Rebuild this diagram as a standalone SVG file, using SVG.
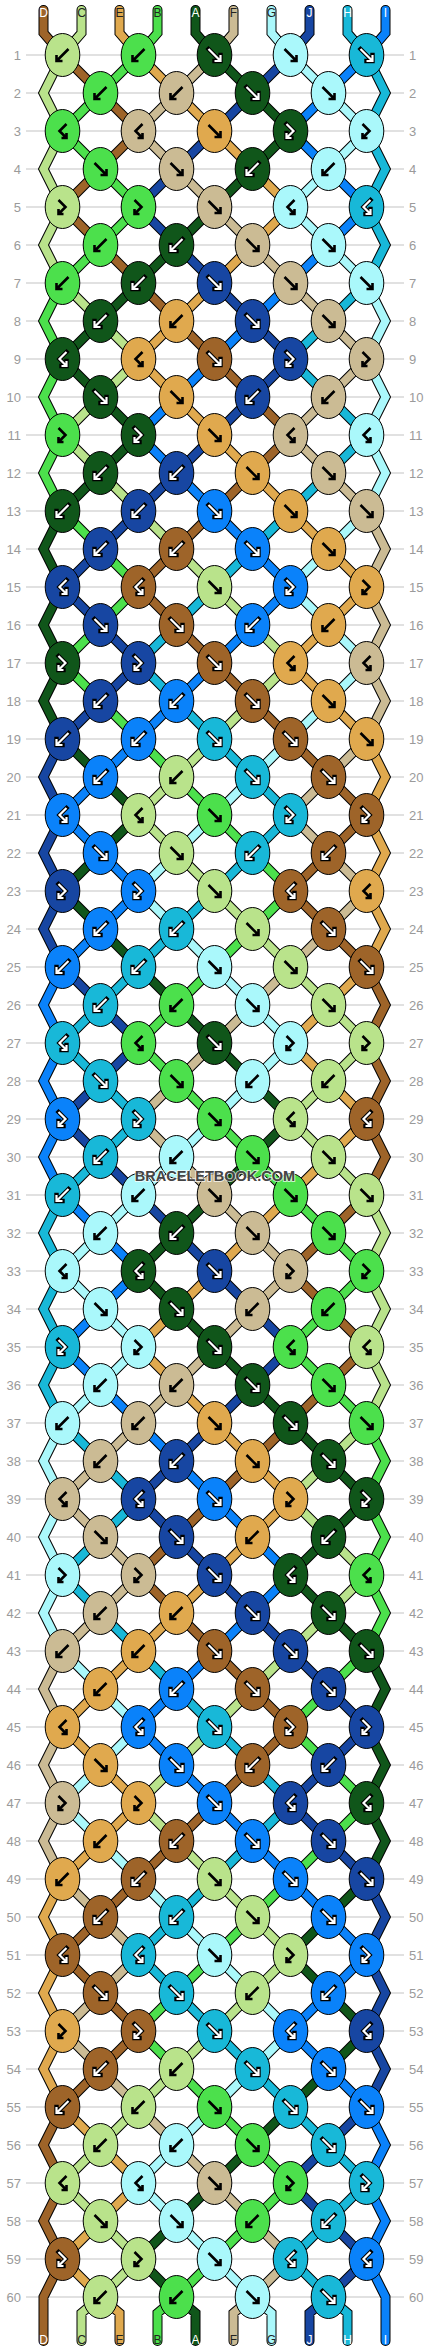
<svg xmlns="http://www.w3.org/2000/svg" width="430" height="2352" viewBox="0 0 430 2352">
<style>
.D{fill:#9e6429}.C{fill:#b9e38b}.E{fill:#e0a94e}.B{fill:#4ce04c}.A{fill:#10561a}.F{fill:#cbbb94}.G{fill:#aaf8fb}.J{fill:#1746a2}.H{fill:#18b8d8}.I{fill:#0a82fa}
.so{fill:none;stroke:#000;stroke-width:10;stroke-linecap:round;stroke-linejoin:miter}
.s{fill:none;stroke-width:8;stroke-linecap:round;stroke-linejoin:miter}
.rn{font-family:"Liberation Sans",Arial,sans-serif;font-size:13px;fill:#9a9a9a}
.lb{font-family:"Liberation Sans",Arial,sans-serif;font-size:12px;text-anchor:middle}
</style>
<defs>
<g id="fl"><ellipse rx="17.3" ry="21.5" stroke="#000"/><path d="M-6-6L5 5M0 6H6V0" fill="none" stroke="#000" stroke-width="2.6"/></g>
<g id="fd"><ellipse rx="17.3" ry="21.5" stroke="#000"/><path d="M-6-6L5 5M0 6H6V0" fill="none" stroke="#000" stroke-width="4.4" stroke-linecap="square"/><path d="M-6-6L5 5M0 6H6V0" fill="none" stroke="#fff" stroke-width="2.2"/></g>
<g id="bl"><ellipse rx="17.3" ry="21.5" stroke="#000"/><path d="M6-6L-5 5M0 6H-6V0" fill="none" stroke="#000" stroke-width="2.6"/></g>
<g id="bd"><ellipse rx="17.3" ry="21.5" stroke="#000"/><path d="M6-6L-5 5M0 6H-6V0" fill="none" stroke="#000" stroke-width="4.4" stroke-linecap="square"/><path d="M6-6L-5 5M0 6H-6V0" fill="none" stroke="#fff" stroke-width="2.2"/></g>
<g id="pl"><ellipse rx="17.3" ry="21.5" stroke="#000"/><path d="M-4-7L3 0L-3 6M1 7H-4V2" fill="none" stroke="#000" stroke-width="2.6"/></g>
<g id="pd"><ellipse rx="17.3" ry="21.5" stroke="#000"/><path d="M-4-7L3 0L-3 6M1 7H-4V2" fill="none" stroke="#000" stroke-width="4.4" stroke-linecap="square"/><path d="M-4-7L3 0L-3 6M1 7H-4V2" fill="none" stroke="#fff" stroke-width="2.2"/></g>
<g id="ql"><ellipse rx="17.3" ry="21.5" stroke="#000"/><path d="M4-7L-3 0L3 6M-1 7H4V2" fill="none" stroke="#000" stroke-width="2.6"/></g>
<g id="qd"><ellipse rx="17.3" ry="21.5" stroke="#000"/><path d="M4-7L-3 0L3 6M-1 7H4V2" fill="none" stroke="#000" stroke-width="4.4" stroke-linecap="square"/><path d="M4-7L-3 0L3 6M-1 7H4V2" fill="none" stroke="#fff" stroke-width="2.2"/></g>
<path id="pD" d="M0 10V33L19 55 57 93 95 131 57 169 19 207 57 245 95 283 133 321 171 359 209 397 247 435 209 473 171 511 133 549 95 587 133 625 171 663 209 701 247 739 285 777 323 815 285 853 247 891 285 929 323 967 342 1005 323 1043 342 1081 323 1119 342 1157 323 1195 285 1233 247 1271 285 1309 323 1347 285 1385 247 1423 209 1461 171 1499 133 1537 95 1575 133 1613 171 1651 209 1689 247 1727 209 1765 171 1803 133 1841 95 1879 57 1917 19 1955 57 1993 95 2031 57 2069 19 2107 0 2145 19 2183 0 2221 19 2259 0 2297V2341"/>
<path id="pC" d="M38 10V33L19 55 0 93 19 131 0 169 19 207 0 245 19 283 57 321 95 359 57 397 19 435 57 473 95 511 133 549 171 587 209 625 247 663 209 701 171 739 133 777 95 815 133 853 171 891 209 929 247 967 285 1005 323 1043 285 1081 247 1119 285 1157 323 1195 342 1233 323 1271 342 1309 323 1347 342 1385 323 1423 285 1461 247 1499 285 1537 323 1575 285 1613 247 1651 209 1689 171 1727 133 1765 95 1803 133 1841 171 1879 209 1917 247 1955 209 1993 171 2031 133 2069 95 2107 57 2145 19 2183 57 2221 95 2259 57 2297L38 2313V2341"/>
<path id="pE" d="M76 10V33L95 55 133 93 171 131 209 169 247 207 209 245 171 283 133 321 95 359 133 397 171 435 209 473 247 511 285 549 323 587 285 625 247 663 285 701 323 739 342 777 323 815 342 853 323 891 342 929 323 967 285 1005 247 1043 285 1081 323 1119 285 1157 247 1195 209 1233 171 1271 133 1309 95 1347 133 1385 171 1423 209 1461 247 1499 209 1537 171 1575 133 1613 95 1651 57 1689 19 1727 57 1765 95 1803 57 1841 19 1879 0 1917 19 1955 0 1993 19 2031 0 2069 19 2107 57 2145 95 2183 57 2221 19 2259 57 2297L76 2313V2341"/>
<path id="pB" d="M114 10V33L95 55 57 93 19 131 57 169 95 207 57 245 19 283 0 321 19 359 0 397 19 435 0 473 19 511 57 549 95 587 57 625 19 663 57 701 95 739 133 777 171 815 209 853 247 891 209 929 171 967 133 1005 95 1043 133 1081 171 1119 209 1157 247 1195 285 1233 323 1271 285 1309 247 1347 285 1385 323 1423 342 1461 323 1499 342 1537 323 1575 342 1613 323 1651 285 1689 247 1727 285 1765 323 1803 285 1841 247 1879 209 1917 171 1955 133 1993 95 2031 133 2069 171 2107 209 2145 247 2183 209 2221 171 2259 133 2297L114 2313V2341"/>
<path id="pA" d="M152 10V33L171 55 209 93 247 131 209 169 171 207 133 245 95 283 57 321 19 359 57 397 95 435 57 473 19 511 0 549 19 587 0 625 19 663 0 701 19 739 57 777 95 815 57 853 19 891 57 929 95 967 133 1005 171 1043 209 1081 247 1119 209 1157 171 1195 133 1233 95 1271 133 1309 171 1347 209 1385 247 1423 285 1461 323 1499 285 1537 247 1575 285 1613 323 1651 342 1689 323 1727 342 1765 323 1803 342 1841 323 1879 285 1917 247 1955 285 1993 323 2031 285 2069 247 2107 209 2145 171 2183 133 2221 95 2259 133 2297L152 2313V2341"/>
<path id="pF" d="M190 10V33L171 55 133 93 95 131 133 169 171 207 209 245 247 283 285 321 323 359 285 397 247 435 285 473 323 511 342 549 323 587 342 625 323 663 342 701 323 739 285 777 247 815 285 853 323 891 285 929 247 967 209 1005 171 1043 133 1081 95 1119 133 1157 171 1195 209 1233 247 1271 209 1309 171 1347 133 1385 95 1423 57 1461 19 1499 57 1537 95 1575 57 1613 19 1651 0 1689 19 1727 0 1765 19 1803 0 1841 19 1879 57 1917 95 1955 57 1993 19 2031 57 2069 95 2107 133 2145 171 2183 209 2221 247 2259 209 2297L190 2313V2341"/>
<path id="pG" d="M228 10V33L247 55 285 93 323 131 285 169 247 207 285 245 323 283 342 321 323 359 342 397 323 435 342 473 323 511 285 549 247 587 285 625 323 663 285 701 247 739 209 777 171 815 133 853 95 891 133 929 171 967 209 1005 247 1043 209 1081 171 1119 133 1157 95 1195 57 1233 19 1271 57 1309 95 1347 57 1385 19 1423 0 1461 19 1499 0 1537 19 1575 0 1613 19 1651 57 1689 95 1727 57 1765 19 1803 57 1841 95 1879 133 1917 171 1955 209 1993 247 2031 209 2069 171 2107 133 2145 95 2183 133 2221 171 2259 209 2297L228 2313V2341"/>
<path id="pJ" d="M266 10V33L247 55 209 93 171 131 133 169 95 207 133 245 171 283 209 321 247 359 209 397 171 435 133 473 95 511 57 549 19 587 57 625 95 663 57 701 19 739 0 777 19 815 0 853 19 891 0 929 19 967 57 1005 95 1043 57 1081 19 1119 57 1157 95 1195 133 1233 171 1271 209 1309 247 1347 209 1385 171 1423 133 1461 95 1499 133 1537 171 1575 209 1613 247 1651 285 1689 323 1727 285 1765 247 1803 285 1841 323 1879 342 1917 323 1955 342 1993 323 2031 342 2069 323 2107 285 2145 247 2183 285 2221 323 2259 285 2297L266 2313V2341"/>
<path id="pH" d="M304 10V33L323 55 342 93 323 131 342 169 323 207 342 245 323 283 285 321 247 359 285 397 323 435 285 473 247 511 209 549 171 587 133 625 95 663 133 701 171 739 209 777 247 815 209 853 171 891 133 929 95 967 57 1005 19 1043 57 1081 95 1119 57 1157 19 1195 0 1233 19 1271 0 1309 19 1347 0 1385 19 1423 57 1461 95 1499 57 1537 19 1575 57 1613 95 1651 133 1689 171 1727 209 1765 247 1803 209 1841 171 1879 133 1917 95 1955 133 1993 171 2031 209 2069 247 2107 285 2145 323 2183 285 2221 247 2259 285 2297L304 2313V2341"/>
<path id="pI" d="M342 10V33L323 55 285 93 247 131 285 169 323 207 285 245 247 283 209 321 171 359 133 397 95 435 133 473 171 511 209 549 247 587 209 625 171 663 133 701 95 739 57 777 19 815 57 853 95 891 57 929 19 967 0 1005 19 1043 0 1081 19 1119 0 1157 19 1195 57 1233 95 1271 57 1309 19 1347 57 1385 95 1423 133 1461 171 1499 209 1537 247 1575 209 1613 171 1651 133 1689 95 1727 133 1765 171 1803 209 1841 247 1879 285 1917 323 1955 285 1993 247 2031 285 2069 323 2107 342 2145 323 2183 342 2221 323 2259 342 2297V2341"/>
</defs>
<rect width="430" height="2352" fill="#fff"/>
<path id="rowlines" fill="none" stroke="#c4c4c4" stroke-width="1.2" d="M26 55h378m-378 38h378m-378 38h378m-378 38h378m-378 38h378m-378 38h378m-378 38h378m-378 38h378m-378 38h378m-378 38h378m-378 38h378m-378 38h378m-378 38h378m-378 38h378m-378 38h378m-378 38h378m-378 38h378m-378 38h378m-378 38h378m-378 38h378m-378 38h378m-378 38h378m-378 38h378m-378 38h378m-378 38h378m-378 38h378m-378 38h378m-378 38h378m-378 38h378m-378 38h378m-378 38h378m-378 38h378m-378 38h378m-378 38h378m-378 38h378m-378 38h378m-378 38h378m-378 38h378m-378 38h378m-378 38h378m-378 38h378m-378 38h378m-378 38h378m-378 38h378m-378 38h378m-378 38h378m-378 38h378m-378 38h378m-378 38h378m-378 38h378m-378 38h378m-378 38h378m-378 38h378m-378 38h378m-378 38h378m-378 38h378m-378 38h378m-378 38h378m-378 38h378m-378 38h378"/>
<g id="rownumbers">
<text class="rn" text-anchor="end"><tspan x="21" y="60">1</tspan><tspan x="21" y="98">2</tspan><tspan x="21" y="136">3</tspan><tspan x="21" y="174">4</tspan><tspan x="21" y="212">5</tspan><tspan x="21" y="250">6</tspan><tspan x="21" y="288">7</tspan><tspan x="21" y="326">8</tspan><tspan x="21" y="364">9</tspan><tspan x="21" y="402">10</tspan><tspan x="21" y="440">11</tspan><tspan x="21" y="478">12</tspan><tspan x="21" y="516">13</tspan><tspan x="21" y="554">14</tspan><tspan x="21" y="592">15</tspan><tspan x="21" y="630">16</tspan><tspan x="21" y="668">17</tspan><tspan x="21" y="706">18</tspan><tspan x="21" y="744">19</tspan><tspan x="21" y="782">20</tspan><tspan x="21" y="820">21</tspan><tspan x="21" y="858">22</tspan><tspan x="21" y="896">23</tspan><tspan x="21" y="934">24</tspan><tspan x="21" y="972">25</tspan><tspan x="21" y="1010">26</tspan><tspan x="21" y="1048">27</tspan><tspan x="21" y="1086">28</tspan><tspan x="21" y="1124">29</tspan><tspan x="21" y="1162">30</tspan><tspan x="21" y="1200">31</tspan><tspan x="21" y="1238">32</tspan><tspan x="21" y="1276">33</tspan><tspan x="21" y="1314">34</tspan><tspan x="21" y="1352">35</tspan><tspan x="21" y="1390">36</tspan><tspan x="21" y="1428">37</tspan><tspan x="21" y="1466">38</tspan><tspan x="21" y="1504">39</tspan><tspan x="21" y="1542">40</tspan><tspan x="21" y="1580">41</tspan><tspan x="21" y="1618">42</tspan><tspan x="21" y="1656">43</tspan><tspan x="21" y="1694">44</tspan><tspan x="21" y="1732">45</tspan><tspan x="21" y="1770">46</tspan><tspan x="21" y="1808">47</tspan><tspan x="21" y="1846">48</tspan><tspan x="21" y="1884">49</tspan><tspan x="21" y="1922">50</tspan><tspan x="21" y="1960">51</tspan><tspan x="21" y="1998">52</tspan><tspan x="21" y="2036">53</tspan><tspan x="21" y="2074">54</tspan><tspan x="21" y="2112">55</tspan><tspan x="21" y="2150">56</tspan><tspan x="21" y="2188">57</tspan><tspan x="21" y="2226">58</tspan><tspan x="21" y="2264">59</tspan><tspan x="21" y="2302">60</tspan></text>
<text class="rn"><tspan x="409" y="60">1</tspan><tspan x="409" y="98">2</tspan><tspan x="409" y="136">3</tspan><tspan x="409" y="174">4</tspan><tspan x="409" y="212">5</tspan><tspan x="409" y="250">6</tspan><tspan x="409" y="288">7</tspan><tspan x="409" y="326">8</tspan><tspan x="409" y="364">9</tspan><tspan x="409" y="402">10</tspan><tspan x="409" y="440">11</tspan><tspan x="409" y="478">12</tspan><tspan x="409" y="516">13</tspan><tspan x="409" y="554">14</tspan><tspan x="409" y="592">15</tspan><tspan x="409" y="630">16</tspan><tspan x="409" y="668">17</tspan><tspan x="409" y="706">18</tspan><tspan x="409" y="744">19</tspan><tspan x="409" y="782">20</tspan><tspan x="409" y="820">21</tspan><tspan x="409" y="858">22</tspan><tspan x="409" y="896">23</tspan><tspan x="409" y="934">24</tspan><tspan x="409" y="972">25</tspan><tspan x="409" y="1010">26</tspan><tspan x="409" y="1048">27</tspan><tspan x="409" y="1086">28</tspan><tspan x="409" y="1124">29</tspan><tspan x="409" y="1162">30</tspan><tspan x="409" y="1200">31</tspan><tspan x="409" y="1238">32</tspan><tspan x="409" y="1276">33</tspan><tspan x="409" y="1314">34</tspan><tspan x="409" y="1352">35</tspan><tspan x="409" y="1390">36</tspan><tspan x="409" y="1428">37</tspan><tspan x="409" y="1466">38</tspan><tspan x="409" y="1504">39</tspan><tspan x="409" y="1542">40</tspan><tspan x="409" y="1580">41</tspan><tspan x="409" y="1618">42</tspan><tspan x="409" y="1656">43</tspan><tspan x="409" y="1694">44</tspan><tspan x="409" y="1732">45</tspan><tspan x="409" y="1770">46</tspan><tspan x="409" y="1808">47</tspan><tspan x="409" y="1846">48</tspan><tspan x="409" y="1884">49</tspan><tspan x="409" y="1922">50</tspan><tspan x="409" y="1960">51</tspan><tspan x="409" y="1998">52</tspan><tspan x="409" y="2036">53</tspan><tspan x="409" y="2074">54</tspan><tspan x="409" y="2112">55</tspan><tspan x="409" y="2150">56</tspan><tspan x="409" y="2188">57</tspan><tspan x="409" y="2226">58</tspan><tspan x="409" y="2264">59</tspan><tspan x="409" y="2302">60</tspan></text>
</g>
<g transform="translate(43.5 0)">
<g id="connectors">
<use href="#pD" class="so"/><use href="#pD" class="s" stroke="#9e6429"/>
<use href="#pC" class="so"/><use href="#pC" class="s" stroke="#b9e38b"/>
<use href="#pE" class="so"/><use href="#pE" class="s" stroke="#e0a94e"/>
<use href="#pB" class="so"/><use href="#pB" class="s" stroke="#4ce04c"/>
<use href="#pA" class="so"/><use href="#pA" class="s" stroke="#10561a"/>
<use href="#pF" class="so"/><use href="#pF" class="s" stroke="#cbbb94"/>
<use href="#pG" class="so"/><use href="#pG" class="s" stroke="#aaf8fb"/>
<use href="#pJ" class="so"/><use href="#pJ" class="s" stroke="#1746a2"/>
<use href="#pH" class="so"/><use href="#pH" class="s" stroke="#18b8d8"/>
<use href="#pI" class="so"/><use href="#pI" class="s" stroke="#0a82fa"/>
</g>
<g id="string-labels">
<text class="lb" x="0" y="17" fill="#fff">D</text><text class="lb" x="38" y="17" fill="#222">C</text><text class="lb" x="76" y="17" fill="#222">E</text><text class="lb" x="114" y="17" fill="#222">B</text><text class="lb" x="152" y="17" fill="#fff">A</text><text class="lb" x="190" y="17" fill="#222">F</text><text class="lb" x="228" y="17" fill="#222">G</text><text class="lb" x="266" y="17" fill="#fff">J</text><text class="lb" x="304" y="17" fill="#fff">H</text><text class="lb" x="342" y="17" fill="#fff">I</text>
<text class="lb" x="0" y="2344" fill="#fff">D</text><text class="lb" x="38" y="2344" fill="#222">C</text><text class="lb" x="76" y="2344" fill="#222">E</text><text class="lb" x="114" y="2344" fill="#222">B</text><text class="lb" x="152" y="2344" fill="#fff">A</text><text class="lb" x="190" y="2344" fill="#222">F</text><text class="lb" x="228" y="2344" fill="#222">G</text><text class="lb" x="266" y="2344" fill="#fff">J</text><text class="lb" x="304" y="2344" fill="#fff">H</text><text class="lb" x="342" y="2344" fill="#fff">I</text>
</g>
<g id="knots">
<g id="k1-1" class="C"><use href="#bl" x="19" y="55"/></g><g id="k1-2" class="B"><use href="#bl" x="95" y="55"/></g><g id="k1-3" class="A"><use href="#fd" x="171" y="55"/></g><g id="k1-4" class="G"><use href="#fl" x="247" y="55"/></g><g id="k1-5" class="H"><use href="#fd" x="323" y="55"/></g>
<g id="k2-1" class="B"><use href="#bl" x="57" y="93"/></g><g id="k2-2" class="F"><use href="#bl" x="133" y="93"/></g><g id="k2-3" class="A"><use href="#fd" x="209" y="93"/></g><g id="k2-4" class="G"><use href="#fl" x="285" y="93"/></g>
<g id="k3-1" class="B"><use href="#ql" x="19" y="131"/></g><g id="k3-2" class="F"><use href="#ql" x="95" y="131"/></g><g id="k3-3" class="E"><use href="#fl" x="171" y="131"/></g><g id="k3-4" class="A"><use href="#pd" x="247" y="131"/></g><g id="k3-5" class="G"><use href="#pl" x="323" y="131"/></g>
<g id="k4-1" class="B"><use href="#fl" x="57" y="169"/></g><g id="k4-2" class="F"><use href="#fl" x="133" y="169"/></g><g id="k4-3" class="A"><use href="#bd" x="209" y="169"/></g><g id="k4-4" class="G"><use href="#bl" x="285" y="169"/></g>
<g id="k5-1" class="C"><use href="#pl" x="19" y="207"/></g><g id="k5-2" class="B"><use href="#pl" x="95" y="207"/></g><g id="k5-3" class="F"><use href="#fl" x="171" y="207"/></g><g id="k5-4" class="G"><use href="#ql" x="247" y="207"/></g><g id="k5-5" class="H"><use href="#qd" x="323" y="207"/></g>
<g id="k6-1" class="B"><use href="#bl" x="57" y="245"/></g><g id="k6-2" class="A"><use href="#bd" x="133" y="245"/></g><g id="k6-3" class="F"><use href="#fl" x="209" y="245"/></g><g id="k6-4" class="G"><use href="#fl" x="285" y="245"/></g>
<g id="k7-1" class="B"><use href="#bl" x="19" y="283"/></g><g id="k7-2" class="A"><use href="#bd" x="95" y="283"/></g><g id="k7-3" class="J"><use href="#fd" x="171" y="283"/></g><g id="k7-4" class="F"><use href="#fl" x="247" y="283"/></g><g id="k7-5" class="G"><use href="#fl" x="323" y="283"/></g>
<g id="k8-1" class="A"><use href="#bd" x="57" y="321"/></g><g id="k8-2" class="E"><use href="#bl" x="133" y="321"/></g><g id="k8-3" class="J"><use href="#fd" x="209" y="321"/></g><g id="k8-4" class="F"><use href="#fl" x="285" y="321"/></g>
<g id="k9-1" class="A"><use href="#qd" x="19" y="359"/></g><g id="k9-2" class="E"><use href="#ql" x="95" y="359"/></g><g id="k9-3" class="D"><use href="#fd" x="171" y="359"/></g><g id="k9-4" class="J"><use href="#pd" x="247" y="359"/></g><g id="k9-5" class="F"><use href="#pl" x="323" y="359"/></g>
<g id="k10-1" class="A"><use href="#fd" x="57" y="397"/></g><g id="k10-2" class="E"><use href="#fl" x="133" y="397"/></g><g id="k10-3" class="J"><use href="#bd" x="209" y="397"/></g><g id="k10-4" class="F"><use href="#bl" x="285" y="397"/></g>
<g id="k11-1" class="B"><use href="#pl" x="19" y="435"/></g><g id="k11-2" class="A"><use href="#pd" x="95" y="435"/></g><g id="k11-3" class="E"><use href="#fl" x="171" y="435"/></g><g id="k11-4" class="F"><use href="#ql" x="247" y="435"/></g><g id="k11-5" class="G"><use href="#ql" x="323" y="435"/></g>
<g id="k12-1" class="A"><use href="#bd" x="57" y="473"/></g><g id="k12-2" class="J"><use href="#bd" x="133" y="473"/></g><g id="k12-3" class="E"><use href="#fl" x="209" y="473"/></g><g id="k12-4" class="F"><use href="#fl" x="285" y="473"/></g>
<g id="k13-1" class="A"><use href="#bd" x="19" y="511"/></g><g id="k13-2" class="J"><use href="#bd" x="95" y="511"/></g><g id="k13-3" class="I"><use href="#fd" x="171" y="511"/></g><g id="k13-4" class="E"><use href="#fl" x="247" y="511"/></g><g id="k13-5" class="F"><use href="#fl" x="323" y="511"/></g>
<g id="k14-1" class="J"><use href="#bd" x="57" y="549"/></g><g id="k14-2" class="D"><use href="#bd" x="133" y="549"/></g><g id="k14-3" class="I"><use href="#fd" x="209" y="549"/></g><g id="k14-4" class="E"><use href="#fl" x="285" y="549"/></g>
<g id="k15-1" class="J"><use href="#qd" x="19" y="587"/></g><g id="k15-2" class="D"><use href="#qd" x="95" y="587"/></g><g id="k15-3" class="C"><use href="#fl" x="171" y="587"/></g><g id="k15-4" class="I"><use href="#pd" x="247" y="587"/></g><g id="k15-5" class="E"><use href="#pl" x="323" y="587"/></g>
<g id="k16-1" class="J"><use href="#fd" x="57" y="625"/></g><g id="k16-2" class="D"><use href="#fd" x="133" y="625"/></g><g id="k16-3" class="I"><use href="#bd" x="209" y="625"/></g><g id="k16-4" class="E"><use href="#bl" x="285" y="625"/></g>
<g id="k17-1" class="A"><use href="#pd" x="19" y="663"/></g><g id="k17-2" class="J"><use href="#pd" x="95" y="663"/></g><g id="k17-3" class="D"><use href="#fd" x="171" y="663"/></g><g id="k17-4" class="E"><use href="#ql" x="247" y="663"/></g><g id="k17-5" class="F"><use href="#ql" x="323" y="663"/></g>
<g id="k18-1" class="J"><use href="#bd" x="57" y="701"/></g><g id="k18-2" class="I"><use href="#bd" x="133" y="701"/></g><g id="k18-3" class="D"><use href="#fd" x="209" y="701"/></g><g id="k18-4" class="E"><use href="#fl" x="285" y="701"/></g>
<g id="k19-1" class="J"><use href="#bd" x="19" y="739"/></g><g id="k19-2" class="I"><use href="#bd" x="95" y="739"/></g><g id="k19-3" class="H"><use href="#fd" x="171" y="739"/></g><g id="k19-4" class="D"><use href="#fd" x="247" y="739"/></g><g id="k19-5" class="E"><use href="#fl" x="323" y="739"/></g>
<g id="k20-1" class="I"><use href="#bd" x="57" y="777"/></g><g id="k20-2" class="C"><use href="#bl" x="133" y="777"/></g><g id="k20-3" class="H"><use href="#fd" x="209" y="777"/></g><g id="k20-4" class="D"><use href="#fd" x="285" y="777"/></g>
<g id="k21-1" class="I"><use href="#qd" x="19" y="815"/></g><g id="k21-2" class="C"><use href="#ql" x="95" y="815"/></g><g id="k21-3" class="B"><use href="#fl" x="171" y="815"/></g><g id="k21-4" class="H"><use href="#pd" x="247" y="815"/></g><g id="k21-5" class="D"><use href="#pd" x="323" y="815"/></g>
<g id="k22-1" class="I"><use href="#fd" x="57" y="853"/></g><g id="k22-2" class="C"><use href="#fl" x="133" y="853"/></g><g id="k22-3" class="H"><use href="#bd" x="209" y="853"/></g><g id="k22-4" class="D"><use href="#bd" x="285" y="853"/></g>
<g id="k23-1" class="J"><use href="#pd" x="19" y="891"/></g><g id="k23-2" class="I"><use href="#pd" x="95" y="891"/></g><g id="k23-3" class="C"><use href="#fl" x="171" y="891"/></g><g id="k23-4" class="D"><use href="#qd" x="247" y="891"/></g><g id="k23-5" class="E"><use href="#ql" x="323" y="891"/></g>
<g id="k24-1" class="I"><use href="#bd" x="57" y="929"/></g><g id="k24-2" class="H"><use href="#bd" x="133" y="929"/></g><g id="k24-3" class="C"><use href="#fl" x="209" y="929"/></g><g id="k24-4" class="D"><use href="#fd" x="285" y="929"/></g>
<g id="k25-1" class="I"><use href="#bd" x="19" y="967"/></g><g id="k25-2" class="H"><use href="#bd" x="95" y="967"/></g><g id="k25-3" class="G"><use href="#fl" x="171" y="967"/></g><g id="k25-4" class="C"><use href="#fl" x="247" y="967"/></g><g id="k25-5" class="D"><use href="#fd" x="323" y="967"/></g>
<g id="k26-1" class="H"><use href="#bd" x="57" y="1005"/></g><g id="k26-2" class="B"><use href="#bl" x="133" y="1005"/></g><g id="k26-3" class="G"><use href="#fl" x="209" y="1005"/></g><g id="k26-4" class="C"><use href="#fl" x="285" y="1005"/></g>
<g id="k27-1" class="H"><use href="#qd" x="19" y="1043"/></g><g id="k27-2" class="B"><use href="#ql" x="95" y="1043"/></g><g id="k27-3" class="A"><use href="#fd" x="171" y="1043"/></g><g id="k27-4" class="G"><use href="#pl" x="247" y="1043"/></g><g id="k27-5" class="C"><use href="#pl" x="323" y="1043"/></g>
<g id="k28-1" class="H"><use href="#fd" x="57" y="1081"/></g><g id="k28-2" class="B"><use href="#fl" x="133" y="1081"/></g><g id="k28-3" class="G"><use href="#bl" x="209" y="1081"/></g><g id="k28-4" class="C"><use href="#bl" x="285" y="1081"/></g>
<g id="k29-1" class="I"><use href="#pd" x="19" y="1119"/></g><g id="k29-2" class="H"><use href="#pd" x="95" y="1119"/></g><g id="k29-3" class="B"><use href="#fl" x="171" y="1119"/></g><g id="k29-4" class="C"><use href="#ql" x="247" y="1119"/></g><g id="k29-5" class="D"><use href="#qd" x="323" y="1119"/></g>
<g id="k30-1" class="H"><use href="#bd" x="57" y="1157"/></g><g id="k30-2" class="G"><use href="#bl" x="133" y="1157"/></g><g id="k30-3" class="B"><use href="#fl" x="209" y="1157"/></g><g id="k30-4" class="C"><use href="#fl" x="285" y="1157"/></g>
<g id="k31-1" class="H"><use href="#bd" x="19" y="1195"/></g><g id="k31-2" class="G"><use href="#bl" x="95" y="1195"/></g><g id="k31-3" class="F"><use href="#fl" x="171" y="1195"/></g><g id="k31-4" class="B"><use href="#fl" x="247" y="1195"/></g><g id="k31-5" class="C"><use href="#fl" x="323" y="1195"/></g>
<g id="k32-1" class="G"><use href="#bl" x="57" y="1233"/></g><g id="k32-2" class="A"><use href="#bd" x="133" y="1233"/></g><g id="k32-3" class="F"><use href="#fl" x="209" y="1233"/></g><g id="k32-4" class="B"><use href="#fl" x="285" y="1233"/></g>
<g id="k33-1" class="G"><use href="#ql" x="19" y="1271"/></g><g id="k33-2" class="A"><use href="#qd" x="95" y="1271"/></g><g id="k33-3" class="J"><use href="#fd" x="171" y="1271"/></g><g id="k33-4" class="F"><use href="#pl" x="247" y="1271"/></g><g id="k33-5" class="B"><use href="#pl" x="323" y="1271"/></g>
<g id="k34-1" class="G"><use href="#fl" x="57" y="1309"/></g><g id="k34-2" class="A"><use href="#fd" x="133" y="1309"/></g><g id="k34-3" class="F"><use href="#bl" x="209" y="1309"/></g><g id="k34-4" class="B"><use href="#bl" x="285" y="1309"/></g>
<g id="k35-1" class="H"><use href="#pd" x="19" y="1347"/></g><g id="k35-2" class="G"><use href="#pl" x="95" y="1347"/></g><g id="k35-3" class="A"><use href="#fd" x="171" y="1347"/></g><g id="k35-4" class="B"><use href="#ql" x="247" y="1347"/></g><g id="k35-5" class="C"><use href="#ql" x="323" y="1347"/></g>
<g id="k36-1" class="G"><use href="#bl" x="57" y="1385"/></g><g id="k36-2" class="F"><use href="#bl" x="133" y="1385"/></g><g id="k36-3" class="A"><use href="#fd" x="209" y="1385"/></g><g id="k36-4" class="B"><use href="#fl" x="285" y="1385"/></g>
<g id="k37-1" class="G"><use href="#bl" x="19" y="1423"/></g><g id="k37-2" class="F"><use href="#bl" x="95" y="1423"/></g><g id="k37-3" class="E"><use href="#fl" x="171" y="1423"/></g><g id="k37-4" class="A"><use href="#fd" x="247" y="1423"/></g><g id="k37-5" class="B"><use href="#fl" x="323" y="1423"/></g>
<g id="k38-1" class="F"><use href="#bl" x="57" y="1461"/></g><g id="k38-2" class="J"><use href="#bd" x="133" y="1461"/></g><g id="k38-3" class="E"><use href="#fl" x="209" y="1461"/></g><g id="k38-4" class="A"><use href="#fd" x="285" y="1461"/></g>
<g id="k39-1" class="F"><use href="#ql" x="19" y="1499"/></g><g id="k39-2" class="J"><use href="#qd" x="95" y="1499"/></g><g id="k39-3" class="I"><use href="#fd" x="171" y="1499"/></g><g id="k39-4" class="E"><use href="#pl" x="247" y="1499"/></g><g id="k39-5" class="A"><use href="#pd" x="323" y="1499"/></g>
<g id="k40-1" class="F"><use href="#fl" x="57" y="1537"/></g><g id="k40-2" class="J"><use href="#fd" x="133" y="1537"/></g><g id="k40-3" class="E"><use href="#bl" x="209" y="1537"/></g><g id="k40-4" class="A"><use href="#bd" x="285" y="1537"/></g>
<g id="k41-1" class="G"><use href="#pl" x="19" y="1575"/></g><g id="k41-2" class="F"><use href="#pl" x="95" y="1575"/></g><g id="k41-3" class="J"><use href="#fd" x="171" y="1575"/></g><g id="k41-4" class="A"><use href="#qd" x="247" y="1575"/></g><g id="k41-5" class="B"><use href="#ql" x="323" y="1575"/></g>
<g id="k42-1" class="F"><use href="#bl" x="57" y="1613"/></g><g id="k42-2" class="E"><use href="#bl" x="133" y="1613"/></g><g id="k42-3" class="J"><use href="#fd" x="209" y="1613"/></g><g id="k42-4" class="A"><use href="#fd" x="285" y="1613"/></g>
<g id="k43-1" class="F"><use href="#bl" x="19" y="1651"/></g><g id="k43-2" class="E"><use href="#bl" x="95" y="1651"/></g><g id="k43-3" class="D"><use href="#fd" x="171" y="1651"/></g><g id="k43-4" class="J"><use href="#fd" x="247" y="1651"/></g><g id="k43-5" class="A"><use href="#fd" x="323" y="1651"/></g>
<g id="k44-1" class="E"><use href="#bl" x="57" y="1689"/></g><g id="k44-2" class="I"><use href="#bd" x="133" y="1689"/></g><g id="k44-3" class="D"><use href="#fd" x="209" y="1689"/></g><g id="k44-4" class="J"><use href="#fd" x="285" y="1689"/></g>
<g id="k45-1" class="E"><use href="#ql" x="19" y="1727"/></g><g id="k45-2" class="I"><use href="#qd" x="95" y="1727"/></g><g id="k45-3" class="H"><use href="#fd" x="171" y="1727"/></g><g id="k45-4" class="D"><use href="#pd" x="247" y="1727"/></g><g id="k45-5" class="J"><use href="#pd" x="323" y="1727"/></g>
<g id="k46-1" class="E"><use href="#fl" x="57" y="1765"/></g><g id="k46-2" class="I"><use href="#fd" x="133" y="1765"/></g><g id="k46-3" class="D"><use href="#bd" x="209" y="1765"/></g><g id="k46-4" class="J"><use href="#bd" x="285" y="1765"/></g>
<g id="k47-1" class="F"><use href="#pl" x="19" y="1803"/></g><g id="k47-2" class="E"><use href="#pl" x="95" y="1803"/></g><g id="k47-3" class="I"><use href="#fd" x="171" y="1803"/></g><g id="k47-4" class="J"><use href="#qd" x="247" y="1803"/></g><g id="k47-5" class="A"><use href="#qd" x="323" y="1803"/></g>
<g id="k48-1" class="E"><use href="#bl" x="57" y="1841"/></g><g id="k48-2" class="D"><use href="#bd" x="133" y="1841"/></g><g id="k48-3" class="I"><use href="#fd" x="209" y="1841"/></g><g id="k48-4" class="J"><use href="#fd" x="285" y="1841"/></g>
<g id="k49-1" class="E"><use href="#bl" x="19" y="1879"/></g><g id="k49-2" class="D"><use href="#bd" x="95" y="1879"/></g><g id="k49-3" class="C"><use href="#fl" x="171" y="1879"/></g><g id="k49-4" class="I"><use href="#fd" x="247" y="1879"/></g><g id="k49-5" class="J"><use href="#fd" x="323" y="1879"/></g>
<g id="k50-1" class="D"><use href="#bd" x="57" y="1917"/></g><g id="k50-2" class="H"><use href="#bd" x="133" y="1917"/></g><g id="k50-3" class="C"><use href="#fl" x="209" y="1917"/></g><g id="k50-4" class="I"><use href="#fd" x="285" y="1917"/></g>
<g id="k51-1" class="D"><use href="#qd" x="19" y="1955"/></g><g id="k51-2" class="H"><use href="#qd" x="95" y="1955"/></g><g id="k51-3" class="G"><use href="#fl" x="171" y="1955"/></g><g id="k51-4" class="C"><use href="#pl" x="247" y="1955"/></g><g id="k51-5" class="I"><use href="#pd" x="323" y="1955"/></g>
<g id="k52-1" class="D"><use href="#fd" x="57" y="1993"/></g><g id="k52-2" class="H"><use href="#fd" x="133" y="1993"/></g><g id="k52-3" class="C"><use href="#bl" x="209" y="1993"/></g><g id="k52-4" class="I"><use href="#bd" x="285" y="1993"/></g>
<g id="k53-1" class="E"><use href="#pl" x="19" y="2031"/></g><g id="k53-2" class="D"><use href="#pd" x="95" y="2031"/></g><g id="k53-3" class="H"><use href="#fd" x="171" y="2031"/></g><g id="k53-4" class="I"><use href="#qd" x="247" y="2031"/></g><g id="k53-5" class="J"><use href="#qd" x="323" y="2031"/></g>
<g id="k54-1" class="D"><use href="#bd" x="57" y="2069"/></g><g id="k54-2" class="C"><use href="#bl" x="133" y="2069"/></g><g id="k54-3" class="H"><use href="#fd" x="209" y="2069"/></g><g id="k54-4" class="I"><use href="#fd" x="285" y="2069"/></g>
<g id="k55-1" class="D"><use href="#bd" x="19" y="2107"/></g><g id="k55-2" class="C"><use href="#bl" x="95" y="2107"/></g><g id="k55-3" class="B"><use href="#fl" x="171" y="2107"/></g><g id="k55-4" class="H"><use href="#fd" x="247" y="2107"/></g><g id="k55-5" class="I"><use href="#fd" x="323" y="2107"/></g>
<g id="k56-1" class="C"><use href="#bl" x="57" y="2145"/></g><g id="k56-2" class="G"><use href="#bl" x="133" y="2145"/></g><g id="k56-3" class="B"><use href="#fl" x="209" y="2145"/></g><g id="k56-4" class="H"><use href="#fd" x="285" y="2145"/></g>
<g id="k57-1" class="C"><use href="#ql" x="19" y="2183"/></g><g id="k57-2" class="G"><use href="#ql" x="95" y="2183"/></g><g id="k57-3" class="F"><use href="#fl" x="171" y="2183"/></g><g id="k57-4" class="B"><use href="#pl" x="247" y="2183"/></g><g id="k57-5" class="H"><use href="#pd" x="323" y="2183"/></g>
<g id="k58-1" class="C"><use href="#fl" x="57" y="2221"/></g><g id="k58-2" class="G"><use href="#fl" x="133" y="2221"/></g><g id="k58-3" class="B"><use href="#bl" x="209" y="2221"/></g><g id="k58-4" class="H"><use href="#bd" x="285" y="2221"/></g>
<g id="k59-1" class="D"><use href="#pd" x="19" y="2259"/></g><g id="k59-2" class="C"><use href="#pl" x="95" y="2259"/></g><g id="k59-3" class="G"><use href="#fl" x="171" y="2259"/></g><g id="k59-4" class="H"><use href="#qd" x="247" y="2259"/></g><g id="k59-5" class="I"><use href="#qd" x="323" y="2259"/></g>
<g id="k60-1" class="C"><use href="#bl" x="57" y="2297"/></g><g id="k60-2" class="B"><use href="#bl" x="133" y="2297"/></g><g id="k60-3" class="G"><use href="#fl" x="209" y="2297"/></g><g id="k60-4" class="H"><use href="#fd" x="285" y="2297"/></g>
</g>
</g>
<text id="watermark" x="215" y="1181" text-anchor="middle" font-family="'Liberation Sans',Arial,sans-serif" font-weight="bold" font-size="14.5" fill="#444" stroke="#fff" stroke-opacity="0.7" stroke-width="2" paint-order="stroke">BRACELETBOOK.COM</text>
</svg>
